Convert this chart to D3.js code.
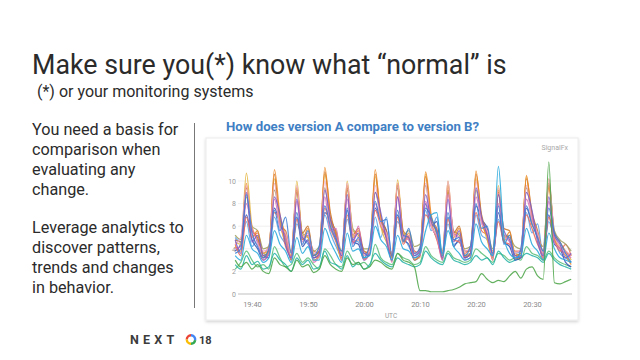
<!DOCTYPE html>
<html>
<head>
<meta charset="utf-8">
<script src="https://cdn.jsdelivr.net/npm/d3@7"></script>
<style>
  body { margin: 0; background: #fff; }
  svg { display: block; font-family: Roboto, "Open Sans", sans-serif; }
</style>
</head>
<body>
<div id="chart"></div>
<script>
const width = 640;
const height = 360;

// Time axis: one point per minute from 19:37 to 20:37 UTC
const startTime = new Date(Date.UTC(2018, 6, 24, 19, 37));
const endTime = new Date(Date.UTC(2018, 6, 24, 20, 37));
const yTicks = [0, 2, 4, 6, 8, 10];

// series values (61 points each)
const orange = [4.2,3.8,9.8,5.0,5.6,3.2,3.6,11.0,7.0,5.2,3.0, 9.4,4.8,5.8,3.0,3.4,11.2,6.8,5.4,3.2, 9.6,5.0,5.6,3.1,3.5,11.0,6.6,5.0,2.9, 9.8,4.6,5.4,3.0,3.6,10.8,7.0,5.2,3.1, 9.6,5.0,5.8,3.3,3.4,10.9,6.4,5.1,3.0, 9.2,4.7,5.5,3.1,3.3,10.5,6.6,5.0,3.2, 9.4,4.8,4.0,3.4,2.6];
const gold = [4.6,4.4,10.7,6.0,4.8,3.6,3.8,10.2,6.2,4.6,3.4, 10.0,5.2,5.0,3.6,3.2,10.6,6.4,4.8,3.0, 10.0,5.6,5.2,3.4,3.8,10.4,6.0,4.6,3.2, 10.1,5.4,4.8,3.2,3.2,10.6,6.2,5.0,3.4, 10.0,5.2,5.4,3.4,3.6,10.2,6.6,4.8,3.2, 9.6,5.0,5.2,3.6,3.4,10.4,6.2,5.4,3.0, 10.2,5.0,4.2,3.8,3.0];
const blue = [3.6,4.0,8.8,5.4,4.2,3.2,4.0,7.4,5.6,6.8,3.6, 7.2,4.4,5.6,3.4,4.2,7.8,6.0,4.8,3.8, 7.6,4.2,5.0,3.2,4.4,8.2,6.4,6.6,3.4, 7.4,4.6,5.8,3.6,4.0,7.6,6.8,5.4,3.6, 7.2,4.8,5.0,3.4,4.2,8.0,5.8,6.0,3.4, 7.8,4.4,5.2,3.0,4.0,7.8,6.2,5.0,3.8, 7.6,5.4,4.6,3.6,2.8];
const purple = [4.8,3.6,9.0,4.6,5.2,3.4,3.2,8.6,7.0,4.4,3.2, 8.4,5.0,4.6,3.2,3.6,9.2,6.6,5.0,3.4, 8.8,4.8,5.4,3.6,3.4,9.0,7.2,4.8,3.0, 8.6,5.2,5.0,3.4,3.8,8.8,6.4,5.6,3.2, 8.4,4.6,5.6,3.2,3.6,9.4,6.8,5.2,3.6, 8.8,5.6,4.8,3.4,3.2,9.0,7.4,4.6,3.4, 8.6,5.2,4.4,3.2,3.6];
const pink = [4.0,4.2,8.0,5.8,4.6,3.0,3.6,8.4,6.0,5.0,3.2, 8.2,4.6,5.4,2.8,3.4,8.6,5.6,5.8,3.0, 8.4,4.4,6.0,3.0,3.6,8.0,6.2,5.2,2.8, 8.6,5.0,4.8,3.2,3.4,8.2,6.0,5.0,3.0, 8.8,5.4,5.0,3.0,3.2,8.6,6.4,5.4,3.0, 8.0,5.2,4.6,3.2,3.4,8.4,6.8,5.2,3.2, 8.2,4.6,4.0,3.6,3.2];
const salmon = [4.4,3.4,6.8,5.0,5.4,3.6,4.2,7.2,6.4,4.2,3.4, 6.6,4.8,5.2,3.8,3.6,7.6,5.8,4.6,3.2, 7.0,4.6,4.8,3.6,4.0,7.4,6.0,5.0,3.6, 6.8,4.4,5.2,3.8,3.6,7.0,6.2,4.8,3.4, 6.6,4.8,4.6,3.6,4.2,7.2,5.6,5.2,3.8, 6.4,4.6,4.4,3.8,3.8,7.0,5.8,4.4,3.6, 6.8,4.8,3.8,4.4,3.4];
const cyan = [3.4,3.0,5.2,4.0,3.6,2.8,3.2,5.6,4.4,3.8,2.8, 5.0,3.6,4.2,3.0,3.0,5.8,4.6,3.6,2.8, 5.4,3.8,4.0,3.2,3.4,6.0,4.8,4.2,3.0, 5.2,4.0,3.8,3.2,3.6,5.6,7.0,7.2,3.4, 5.6,4.2,3.6,3.0,3.2,6.2,4.6,4.0,3.4, 11.3,5.0,3.6,3.2,3.4,5.8,4.4,3.8,3.0, 5.4,4.0,3.2,3.0,2.8];
const teal = [2.6,2.2,3.4,2.6,2.9,2.2,2.4,3.6,3.0,2.6,2.0, 3.2,2.6,3.0,2.2,2.4,3.8,2.8,2.6,2.2, 3.4,2.4,2.8,2.2,2.6,3.6,3.0,2.6,2.4, 3.2,2.8,2.6,2.4,2.6,3.8,3.2,2.8,2.6, 3.6,3.0,2.8,2.6,2.8,3.4,3.0,3.2,2.6, 3.8,3.2,2.8,3.0,3.2,3.6,3.4,3.2,2.8, 3.6,3.0,2.6,2.4,2.2];
const brown = [4.8,4.6,9.4,5.6,5.0,3.4,3.8,10.6,6.0,5.6,3.6, 9.2,5.4,6.0,3.4,3.8,10.8,7.2,5.2,3.6, 9.4,5.2,5.8,3.8,3.6,10.6,6.8,5.6,3.4, 9.6,5.6,5.0,3.6,4.0,10.4,6.6,5.8,3.6, 9.2,5.4,6.0,3.8,3.8,10.6,7.0,5.4,3.6, 9.0,5.8,5.6,3.4,3.6,10.2,7.2,5.6,3.8, 9.8,5.4,4.6,3.8,3.4];
const lightBlue = [5.0,4.6,6.4,4.2,4.8,3.6,3.4,6.8,5.2,4.4,3.2, 6.2,5.0,4.4,3.4,3.8,7.0,5.4,4.2,3.4, 6.6,4.8,4.6,3.6,3.6,6.8,5.0,6.8,3.2, 6.4,5.2,4.2,3.4,4.2,7.4,5.6,6.8,3.6, 6.2,4.4,4.6,3.4,3.6,7.0,5.2,4.8,3.4, 6.6,4.6,4.2,3.6,3.8,7.2,5.4,6.2,3.4, 6.4,4.8,3.6,3.2,2.8];
const olive = [5.2,4.8,8.6,6.0,5.6,4.0,4.2,9.2,6.6,4.8,3.8, 9.0,5.4,5.0,3.8,4.2,9.4,6.2,5.6,3.8, 9.2,5.8,5.2,4.0,4.0,9.0,6.8,5.2,3.6, 9.4,5.2,5.6,4.2,4.4,9.6,6.2,5.0,3.8, 9.0,5.6,5.2,4.0,4.2,9.2,6.4,5.6,4.0, 8.8,5.2,5.0,4.2,4.0,9.4,6.8,5.0,4.2, 9.6,5.6,4.8,4.4,3.8];
const darkBlue = [3.8,4.4,7.0,4.8,4.0,3.0,3.6,7.6,6.2,5.0,3.0, 6.8,4.2,4.8,3.2,3.4,7.2,6.6,5.4,3.0, 7.4,4.6,4.4,3.0,3.8,7.6,6.4,5.6,3.2, 7.0,4.8,4.4,3.0,3.4,8.0,6.0,6.4,3.0, 6.8,4.2,4.8,3.2,3.6,7.8,6.6,5.8,3.2, 7.2,4.6,4.2,3.0,3.2,7.6,6.2,5.2,3.0, 7.0,4.4,4.0,2.8,2.4];
const lightPink = [4.4,5.0,9.6,5.2,4.4,3.8,4.0,9.8,5.8,5.4,3.6, 9.6,5.0,5.4,3.6,4.0,10.0,6.0,5.0,3.6, 9.8,5.4,5.0,3.4,3.8,9.6,6.2,5.4,3.6, 9.8,5.0,5.2,3.6,3.8,9.8,6.0,5.2,3.6, 10.0,5.2,5.0,3.8,4.0,10.0,6.2,5.6,3.4, 9.4,5.0,4.8,3.6,4.0,9.6,6.4,5.4,3.6, 10.2,5.2,4.2,3.8,3.4];
const mint = [2.2,2.8,3.8,3.0,2.4,2.6,2.2,4.2,3.2,2.4,2.6, 3.6,2.8,3.2,2.6,2.2,4.0,3.4,2.6,2.4, 3.8,3.0,2.6,2.8,2.4,4.4,3.2,2.8,2.6, 3.6,3.2,3.0,2.6,2.8,4.2,3.4,3.0,2.8, 3.8,3.2,3.0,2.8,3.0,4.0,3.6,3.2,2.8, 3.6,3.4,3.0,3.2,3.0,4.2,3.6,3.4,3.0, 3.8,3.2,2.8,2.6,2.4];
const green = [3.0,2.4,2.8,2.2,2.6,2.0,1.8,3.2,2.6,2.4,2.0, 3.0,2.4,2.6,1.9,2.2,3.4,2.6,2.2,2.0, 3.2,2.6,2.8,2.2,2.4,3.0,2.8,2.4,2.2, 3.6,3.0,2.8,2.4,0.3,0.3,0.2,0.2,0.2, 0.3,0.4,0.6,0.9,1.0,1.1,1.8,1.3,1.0, 1.2,1.1,1.6,2.0,1.4,2.2,2.4,1.6,1.3, 11.7,1.0,0.9,1.1,1.3];

const seriesList = [
  { values: mint, color: "#5cbf7a" },
  { values: teal, color: "#26b3a6" },
  { values: lightBlue, color: "#5aa3e8" },
  { values: darkBlue, color: "#3a55b4" },
  { values: salmon, color: "#ea6a58" },
  { values: olive, color: "#a0a064" },
  { values: gold, color: "#e2b53e" },
  { values: brown, color: "#c9762e" },
  { values: orange, color: "#ee8a2a" },
  { values: pink, color: "#db6fb6" },
  { values: lightPink, color: "#eba3c6" },
  { values: purple, color: "#7a5cc8" },
  { values: blue, color: "#3f7fd4" },
  { values: cyan, color: "#25a8dc" },
  { values: green, color: "#4ea64a" }
];

const svg = d3.select("#chart")
  .append("svg")
  .attr("width", width)
  .attr("height", height);

// slide texts
svg.append("text")
  .attr("x", 32).attr("y", 74)
  .attr("font-size", 26.8).attr("fill", "#2b2b2b")
  .text("Make sure you(*) know what \u201cnormal\u201d is");

svg.append("text")
  .attr("x", 37).attr("y", 97)
  .attr("font-size", 16).attr("fill", "#2b2b2b")
  .text("(*) or your monitoring systems");

const leftLines = [
  [135, "You need a basis for"],
  [155, "comparison when"],
  [175, "evaluating any"],
  [195, "change."],
  [233, "Leverage analytics to"],
  [253, "discover patterns,"],
  [273, "trends and changes"],
  [293, "in behavior."]
];
svg.selectAll("text.body")
  .data(leftLines)
  .join("text")
  .attr("class", "body")
  .attr("x", 32)
  .attr("y", d => d[0])
  .attr("font-size", 16.2)
  .attr("fill", "#2b2b2b")
  .text(d => d[1]);

// divider
svg.append("line")
  .attr("x1", 194.5).attr("x2", 194.5)
  .attr("y1", 123).attr("y2", 308)
  .attr("stroke", "#777").attr("stroke-width", 1);

svg.append("text")
  .attr("x", 226).attr("y", 131)
  .attr("font-size", 13.2).attr("font-weight", 700)
  .attr("fill", "#3f7fc4")
  .text("How does version A compare to version B?");

// panel with soft shadow
const defs = svg.append("defs");
const shadow = defs.append("filter").attr("id", "shadow")
  .attr("x", "-5%").attr("y", "-5%").attr("width", "110%").attr("height", "115%");
shadow.append("feDropShadow")
  .attr("dx", 0).attr("dy", 1.5).attr("stdDeviation", 1.5)
  .attr("flood-color", "#000").attr("flood-opacity", 0.18);

svg.append("rect")
  .attr("x", 206).attr("y", 138)
  .attr("width", 372).attr("height", 182)
  .attr("fill", "#fff")
  .attr("stroke", "#ececec")
  .attr("filter", "url(#shadow)");

svg.append("text")
  .attr("x", 568).attr("y", 150)
  .attr("text-anchor", "end")
  .attr("font-size", 7).attr("fill", "#a8a8a8")
  .text("SignalFx");

// scales
const x = d3.scaleUtc().domain([startTime, endTime]).range([235.2, 571.2]);
const y = d3.scaleLinear().domain([0, 10]).range([294, 181]);

const times = orange.map((d, i) => new Date(startTime.getTime() + i * 60000));

// grid + y labels
svg.append("g")
  .selectAll("line")
  .data(yTicks)
  .join("line")
  .attr("x1", 238).attr("x2", 572)
  .attr("y1", d => y(d)).attr("y2", d => y(d))
  .attr("stroke", d => d === 0 ? "#d4d4d4" : "#efefef")
  .attr("stroke-width", d => d === 0 ? 1.5 : 1);

const yAxis = svg.append("g")
  .attr("transform", "translate(236,0)")
  .call(d3.axisLeft(y).tickValues(yTicks).tickSize(0).tickPadding(0));
yAxis.select(".domain").remove();
yAxis.selectAll("text")
  .attr("font-size", 7).attr("fill", "#9a9a9a")
  .attr("font-family", "Roboto, sans-serif");

const xAxis = svg.append("g")
  .attr("transform", "translate(0,300)")
  .call(d3.axisBottom(x)
    .ticks(d3.utcMinute.every(10))
    .tickFormat(d3.utcFormat("%H:%M"))
    .tickSize(0).tickPadding(2));
xAxis.select(".domain").remove();
xAxis.selectAll("text")
  .attr("font-size", 7.5).attr("fill", "#8a8a8a")
  .attr("font-family", "Roboto, sans-serif");

svg.append("text")
  .attr("x", 391).attr("y", 318)
  .attr("text-anchor", "middle")
  .attr("font-size", 6.5).attr("fill", "#9a9a9a")
  .text("UTC");

// lines
const line = d3.line()
  .x((d, i) => x(times[i]))
  .y(d => y(d))
  .curve(d3.curveMonotoneX);

svg.append("g")
  .selectAll("path")
  .data(seriesList)
  .join("path")
  .attr("d", d => line(d.values))
  .attr("fill", "none")
  .attr("stroke", d => d.color)
  .attr("stroke-width", 1.2)
  .attr("stroke-opacity", 0.88)
  .attr("stroke-linejoin", "round");

// footer logo
svg.append("text")
  .attr("x", 130).attr("y", 344)
  .attr("font-size", 12.5).attr("font-weight", 700)
  .attr("letter-spacing", 4.2)
  .attr("fill", "#3c3c3c")
  .text("NEXT");

const cloud = svg.append("g").attr("transform", "translate(191,339.5)");
const arc = d3.arc().innerRadius(3).outerRadius(5.4);
[
  { s: -Math.PI * 0.5, e: 0, c: "#ea4335" },
  { s: 0, e: Math.PI * 0.55, c: "#4285f4" },
  { s: Math.PI * 0.55, e: Math.PI, c: "#34a853" },
  { s: -Math.PI, e: -Math.PI * 0.5, c: "#fbbc05" }
].forEach(a => {
  cloud.append("path")
    .attr("d", arc({ startAngle: a.s, endAngle: a.e }))
    .attr("fill", a.c);
});

svg.append("text")
  .attr("x", 199).attr("y", 344)
  .attr("font-size", 11).attr("font-weight", 700)
  .attr("fill", "#3c3c3c")
  .text("18");
</script>
</body>
</html>
